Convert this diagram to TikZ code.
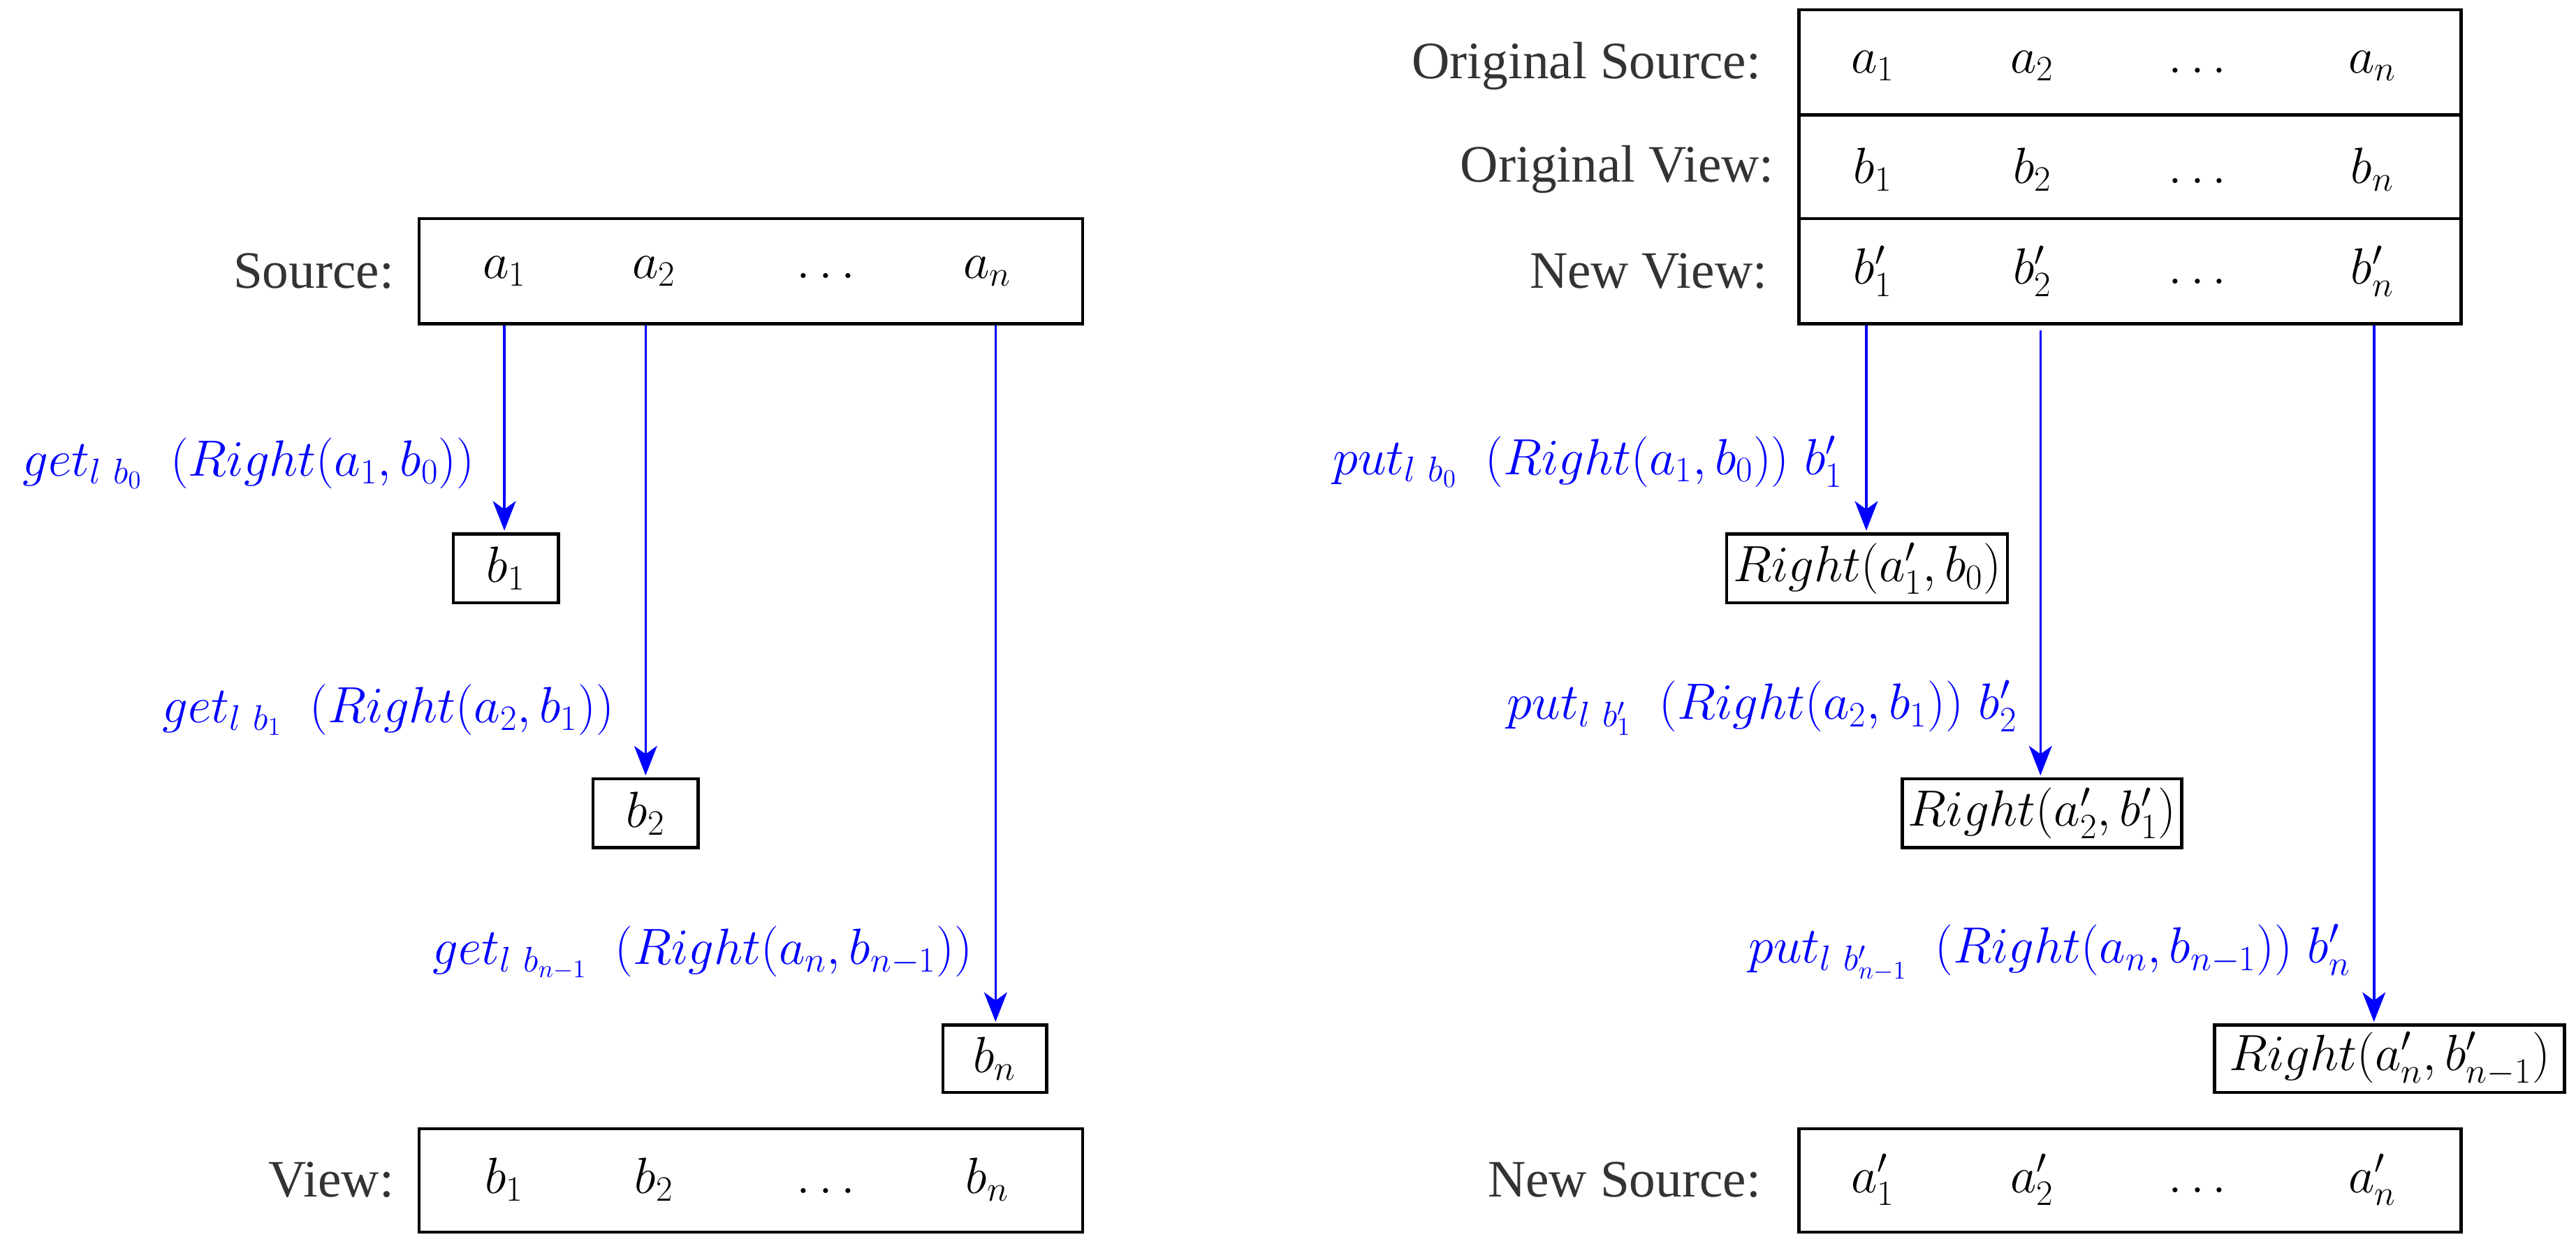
\RequirePackage{fix-cm}
\documentclass[tikz,border=0pt]{standalone}
\usepackage[no-math]{fontspec}
\setmainfont{Liberation Serif}
\usetikzlibrary{arrows.meta}
\definecolor{lblgray}{HTML}{333333}
\newcommand\mfs{\fontsize{31}{37}\selectfont}
\newcommand\sgap{\hspace{0.55em}}
\newcommand\bgap{\hspace{0.3em}}
\begin{document}
\begin{tikzpicture}[x=1pt,y=-1pt,
  lbl/.style={anchor=east, text=lblgray, font=\fontsize{32}{38}\selectfont, inner sep=0pt},
  cell/.style={font=\mfs, inner sep=0pt},
  fn/.style={anchor=east, text=blue, font=\mfs, inner sep=0pt},
  arr/.style={draw=blue, line width=1.5pt, -{Stealth[length=18pt,width=14pt,inset=5pt]}},
  bx/.style={draw, line width=1.9pt, inner sep=1pt, font=\mfs}]
\useasboundingbox (0,0) rectangle (1568,756.8);

% ---------- left side ----------
\node[bx, minimum width=404pt, minimum height=64pt] (src) at (457,165) {};
\node[lbl] (srcl) at (240,165) {Source:};
\node[cell] (sa1) at (307,165) {$a_1$};
\node[cell] (sa2) at (398,165) {$a_2$};
\node[cell] (sad) at (500,165) {$\vphantom{a_1}\ldots$};
\node[cell] (san) at (601,165) {$a_n$};

\node[bx, minimum width=64pt, minimum height=42pt] (b1) at (308,346) {$b_1$};
\node[bx, minimum width=64pt, minimum height=42pt] (b2) at (393,495) {$b_2$};
\node[bx, minimum width=63pt, minimum height=41pt] (bn) at (605.5,644.5) {$b_n$};

\node[bx, minimum width=404pt, minimum height=63pt] (view) at (457,718.5) {};
\node[lbl] (viewl) at (240,718) {View:};
\node[cell] (vb1) at (307,718) {$b_1$};
\node[cell] (vb2) at (398,718) {$b_2$};
\node[cell] (vbd) at (500,718) {$\vphantom{b_1}\ldots$};
\node[cell] (vbn) at (601,718) {$b_n$};

\coordinate (l1) at (307,323);
\coordinate (l2) at (393,472);
\coordinate (l3) at (606,622);
\draw[arr] (src.south -| l1) -- (l1);
\draw[arr] (src.south -| l2) -- (l2);
\draw[arr] (src.south -| l3) -- (l3);

\node[fn] (g1) at (289,282) {$get_{l\ b_0}\sgap(Right(a_1,b_0))$};
\node[fn] (g2) at (374,432) {$get_{l\ b_1}\sgap(Right(a_2,b_1))$};
\node[fn] (g3) at (592,580) {$get_{l\ b_{n-1}}\sgap(Right(a_n,b_{n-1}))$};

% ---------- right side ----------
\node[bx, minimum width=403pt, minimum height=64pt] (os) at (1296.5,38) {};
\node[bx, minimum width=403pt, minimum height=63pt] (ov) at (1296.5,101.5) {};
\node[bx, minimum width=403pt, minimum height=64pt] (nv) at (1296.5,165) {};
\node[lbl] (osl) at (1072,40) {Original Source:};
\node[lbl] (ovl) at (1080,103) {Original View:};
\node[lbl] (nvl) at (1076,165) {New View:};

\node[cell] (oa1) at (1140,40) {$a_1$};
\node[cell] (oa2) at (1237,40) {$a_2$};
\node[cell] (oad) at (1335,40) {$\vphantom{a_1}\ldots$};
\node[cell] (oan) at (1444,40) {$a_n$};
\node[cell] (ob1) at (1140,103) {$b_1$};
\node[cell] (ob2) at (1237,103) {$b_2$};
\node[cell] (obd) at (1335,103) {$\vphantom{b_1}\ldots$};
\node[cell] (obn) at (1444,103) {$b_n$};
\node[cell] (nb1) at (1140,165) {$b'_1$};
\node[cell] (nb2) at (1237,165) {$b'_2$};
\node[cell] (nbd) at (1335,165) {$\vphantom{b'_1}\ldots$};
\node[cell] (nbn) at (1444,165) {$b'_n$};

\node[bx, minimum width=171pt, minimum height=42pt] (r1) at (1136.5,346) {$Right(a'_1,b_0)$};
\node[bx, minimum width=170pt, minimum height=42pt] (r2) at (1243,495) {$Right(a'_2,b'_1)$};
\node[bx, minimum width=213pt, minimum height=41pt] (r3) at (1454.5,644.5) {$Right(a'_n,b'_{n-1})$};

\node[bx, minimum width=403pt, minimum height=63pt] (ns) at (1296.5,718.5) {};
\node[lbl] (nsl) at (1072,718) {New Source:};
\node[cell] (na1) at (1140,718) {$a'_1$};
\node[cell] (na2) at (1237,718) {$a'_2$};
\node[cell] (nad) at (1335,718) {$\vphantom{a'_1}\ldots$};
\node[cell] (nan) at (1444,718) {$a'_n$};

\coordinate (p1) at (1136,323);
\coordinate (p2s) at (1242,201);
\coordinate (p2) at (1242,472);
\coordinate (p3) at (1445,622);
\draw[arr] (nv.south -| p1) -- (p1);
\draw[arr] (p2s) -- (p2);
\draw[arr] (nv.south -| p3) -- (p3);

\node[fn] (u1) at (1122,281) {$put_{l\ b_0}\sgap(Right(a_1,b_0))\bgap b'_1$};
\node[fn] (u2) at (1228,431) {$put_{l\ b'_1}\sgap(Right(a_2,b_1))\bgap b'_2$};
\node[fn] (u3) at (1431,580) {$put_{l\ b'_{n-1}}\sgap(Right(a_n,b_{n-1}))\bgap b'_n$};
\end{tikzpicture}
\end{document}
